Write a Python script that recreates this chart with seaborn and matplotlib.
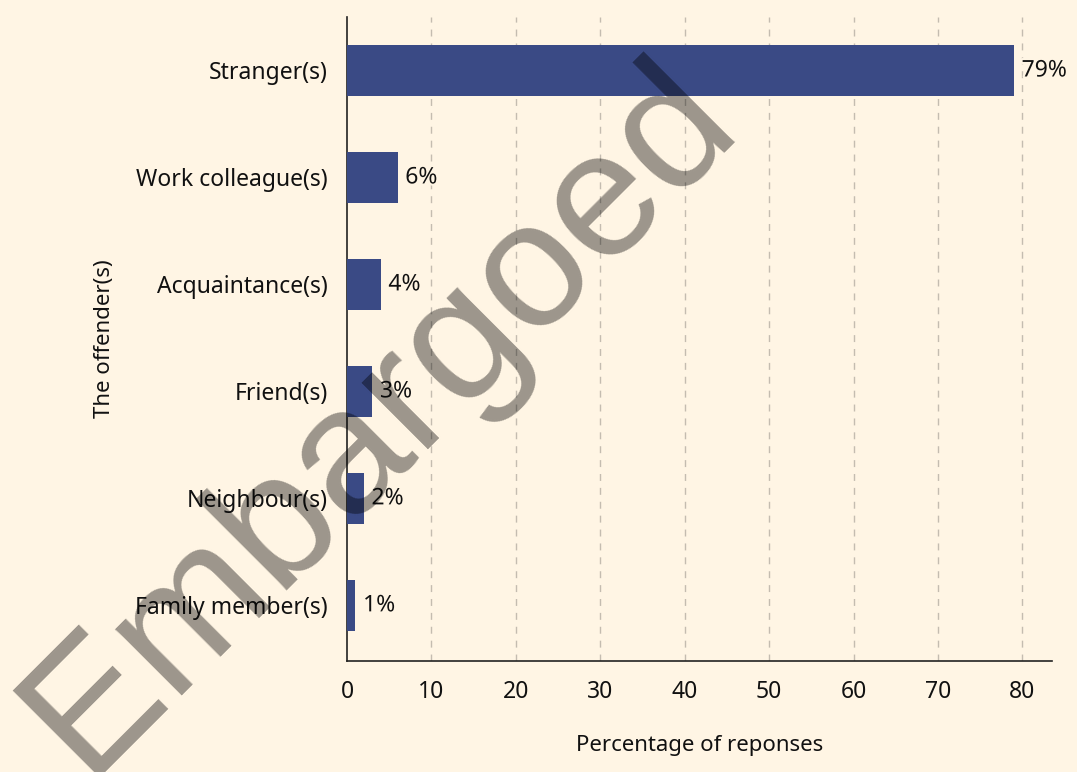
import matplotlib
matplotlib.use("Agg")
import matplotlib.pyplot as plt
import matplotlib.patheffects as pe
import pandas as pd
import seaborn as sns

# Data
offenders = ['Stranger(s)', 'Work colleague(s)', 'Acquaintance(s)',
             'Friend(s)', 'Neighbour(s)', 'Family member(s)']
percentages = [79, 6, 4, 3, 2, 1]
x_ticks = [0, 10, 20, 30, 40, 50, 60, 70, 80]

df = pd.DataFrame({'offender': offenders, 'pct': percentages})

bg = '#fff5e4'
bar_color = '#3a4a85'

sns.set_style('white')
plt.rcParams['font.family'] = ['Noto Sans', 'DejaVu Sans']

fig = plt.figure(figsize=(10.77, 7.72), dpi=100, facecolor=bg)
ax = fig.add_axes([0.3222, 0.1438, 0.6546, 0.8342])
ax.set_facecolor(bg)

sns.barplot(data=df, x='pct', y='offender', color=bar_color, width=0.48,
            saturation=1, linewidth=0, ax=ax, zorder=3)

# Value labels
for i, v in enumerate(percentages):
    ax.text(v + 0.9, i, f'{v}%', va='center', ha='left', fontsize=16.5,
            color='#111111', zorder=5,
            path_effects=[pe.withStroke(linewidth=3, foreground=bg)])

ax.set_xlim(0, 83.5)
ax.set_ylim(5.52, -0.5)
ax.set_xticks(x_ticks)
ax.tick_params(axis='both', length=0, labelsize=16.5, colors='#111111')
ax.tick_params(axis='x', pad=14)
ax.tick_params(axis='y', pad=14)

for x in x_ticks[1:]:
    ax.axvline(x, color='#c4bcb0', linestyle=(0, (5, 5)), linewidth=1, zorder=1)

for side in ['top', 'right']:
    ax.spines[side].set_visible(False)
for side in ['left', 'bottom']:
    ax.spines[side].set_color('#222222')
    ax.spines[side].set_linewidth(1.2)

ax.set_xlabel('Percentage of reponses', fontsize=16, labelpad=22, color='#111111')
ax.set_ylabel('The offender(s)', fontsize=16, labelpad=14, color='#111111')

# Watermark
fig.text(0.0786, -0.0073, 'Embargoed', fontsize=129, rotation=45, color='black',
         family='Liberation Sans', alpha=0.39, ha='left', va='baseline',
         rotation_mode='anchor', zorder=10)

fig.savefig('out.png', dpi=100, facecolor=bg)
